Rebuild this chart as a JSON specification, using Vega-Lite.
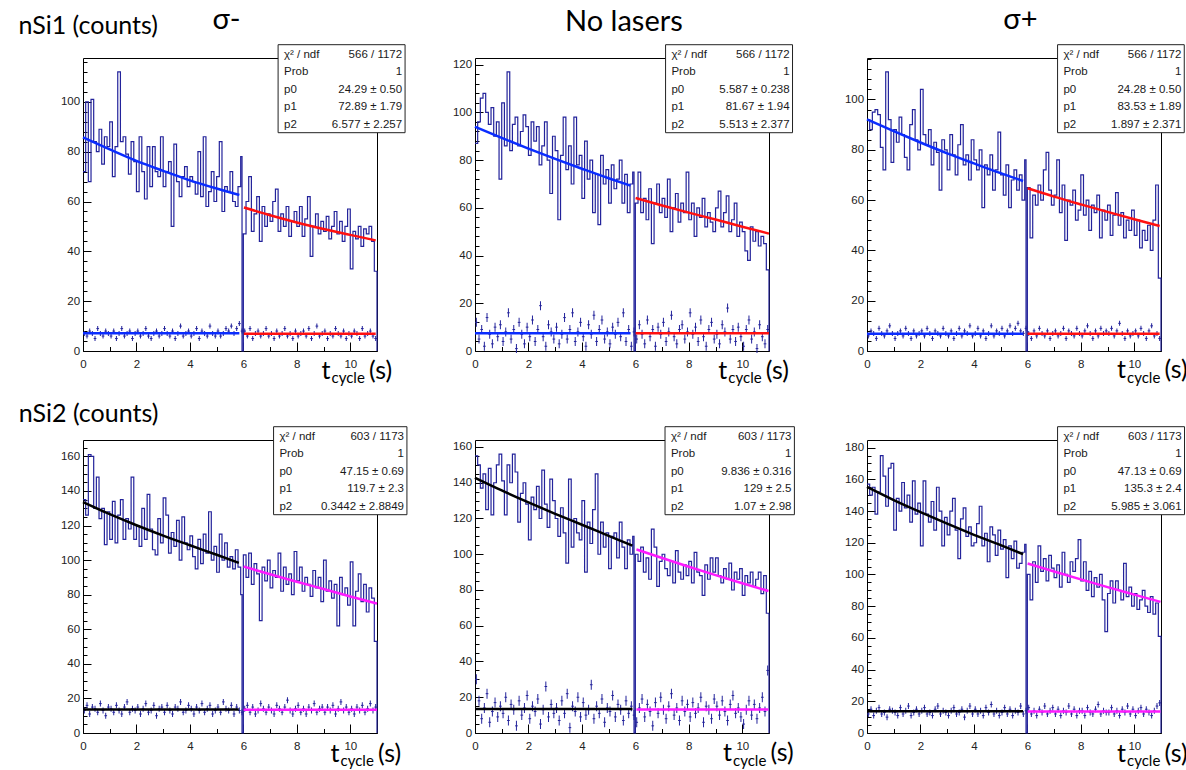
{
"$schema":"https://vega.github.io/schema/vega-lite/v6.json",
"background":"white",
"padding":{"left":18,"top":5,"right":0,"bottom":0},
"config":{"view":{"stroke":"#000","strokeWidth":1},"axis":{"domain":false,"grid":false,"labelFont":"Liberation Sans","labelFontSize":11.5,"labelColor":"#222","tickColor":"#000","tickWidth":1,"labelFlush":false,"labelOverlap":false}},
"datasets":{
"s1":[{"a":"χ² / ndf\nProb\np0\np1\np2","b":"566 / 1172\n1\n24.29 ± 0.50\n72.89 ± 1.79\n6.577 ± 2.257"}],
"s2":[{"a":"χ² / ndf\nProb\np0\np1\np2","b":"566 / 1172\n1\n5.587 ± 0.238\n81.67 ± 1.94\n5.513 ± 2.377"}],
"s3":[{"a":"χ² / ndf\nProb\np0\np1\np2","b":"566 / 1172\n1\n24.28 ± 0.50\n83.53 ± 1.89\n1.897 ± 2.371"}],
"s4":[{"a":"χ² / ndf\nProb\np0\np1\np2","b":"603 / 1173\n1\n47.15 ± 0.69\n119.7 ± 2.3\n0.3442 ± 2.8849"}],
"s5":[{"a":"χ² / ndf\nProb\np0\np1\np2","b":"603 / 1173\n1\n9.836 ± 0.316\n129 ± 2.5\n1.07 ± 2.98"}],
"s6":[{"a":"χ² / ndf\nProb\np0\np1\np2","b":"603 / 1173\n1\n47.13 ± 0.69\n135.3 ± 2.4\n5.985 ± 3.061"}],
"f1":[{"x":0,"y":85.7,"s":"pre1","k":"m"},{"x":1,"y":80.9,"s":"pre1","k":"m"},{"x":2,"y":76.3,"s":"pre1","k":"m"},{"x":3,"y":72.3,"s":"pre1","k":"m"},{"x":4,"y":68.5,"s":"pre1","k":"m"},{"x":5,"y":65.2,"s":"pre1","k":"m"},{"x":5.85,"y":62.6,"s":"pre1","k":"m"},{"x":6.02,"y":57.6,"s":"post1","k":"m"},{"x":7,"y":54.5,"s":"post1","k":"m"},{"x":8,"y":51.6,"s":"post1","k":"m"},{"x":9,"y":49.0,"s":"post1","k":"m"},{"x":10,"y":46.6,"s":"post1","k":"m"},{"x":10.95,"y":44.4,"s":"post1","k":"m"},{"x":0,"y":7.1,"s":"pre1","k":"g"},{"x":5.85,"y":7.1,"s":"pre1","k":"g"},{"x":6.02,"y":6.9,"s":"post1","k":"g"},{"x":10.95,"y":6.9,"s":"post1","k":"g"}],
"f2":[{"x":0,"y":94.0,"s":"pre1","k":"m"},{"x":1,"y":89.3,"s":"pre1","k":"m"},{"x":2,"y":84.8,"s":"pre1","k":"m"},{"x":3,"y":80.5,"s":"pre1","k":"m"},{"x":4,"y":76.4,"s":"pre1","k":"m"},{"x":5,"y":72.4,"s":"pre1","k":"m"},{"x":5.82,"y":69.3,"s":"pre1","k":"m"},{"x":6.01,"y":64.1,"s":"post1","k":"m"},{"x":7,"y":61.0,"s":"post1","k":"m"},{"x":8,"y":58.0,"s":"post1","k":"m"},{"x":9,"y":55.1,"s":"post1","k":"m"},{"x":10,"y":52.1,"s":"post1","k":"m"},{"x":11,"y":49.2,"s":"post1","k":"m"},{"x":0,"y":7.4,"s":"pre1","k":"g"},{"x":5.82,"y":7.4,"s":"pre1","k":"g"},{"x":6.01,"y":7.4,"s":"post1","k":"g"},{"x":11,"y":7.4,"s":"post1","k":"g"}],
"f3":[{"x":0,"y":92.1,"s":"pre1","k":"m"},{"x":1,"y":87.4,"s":"pre1","k":"m"},{"x":2,"y":82.9,"s":"pre1","k":"m"},{"x":3,"y":78.6,"s":"pre1","k":"m"},{"x":4,"y":74.6,"s":"pre1","k":"m"},{"x":5,"y":70.7,"s":"pre1","k":"m"},{"x":5.84,"y":67.6,"s":"pre1","k":"m"},{"x":6.01,"y":64.7,"s":"post1","k":"m"},{"x":7,"y":61.4,"s":"post1","k":"m"},{"x":8,"y":58.3,"s":"post1","k":"m"},{"x":9,"y":55.3,"s":"post1","k":"m"},{"x":10,"y":52.4,"s":"post1","k":"m"},{"x":10.95,"y":49.7,"s":"post1","k":"m"},{"x":0,"y":6.9,"s":"pre1","k":"g"},{"x":5.84,"y":6.9,"s":"pre1","k":"g"},{"x":6.01,"y":6.9,"s":"post1","k":"g"},{"x":10.95,"y":6.9,"s":"post1","k":"g"}],
"f4":[{"x":0,"y":133.5,"s":"pre2","k":"m"},{"x":1,"y":126.6,"s":"pre2","k":"m"},{"x":2,"y":120.2,"s":"pre2","k":"m"},{"x":3,"y":114.2,"s":"pre2","k":"m"},{"x":4,"y":108.6,"s":"pre2","k":"m"},{"x":5,"y":103.1,"s":"pre2","k":"m"},{"x":5.83,"y":98.4,"s":"pre2","k":"m"},{"x":6.01,"y":96.3,"s":"post2","k":"m"},{"x":7,"y":91.8,"s":"post2","k":"m"},{"x":8,"y":87.5,"s":"post2","k":"m"},{"x":9,"y":83.3,"s":"post2","k":"m"},{"x":10,"y":79.0,"s":"post2","k":"m"},{"x":11,"y":74.9,"s":"post2","k":"m"},{"x":0,"y":13.6,"s":"pre2","k":"g"},{"x":5.83,"y":13.6,"s":"pre2","k":"g"},{"x":6.01,"y":13.4,"s":"post2","k":"g"},{"x":11,"y":13.4,"s":"post2","k":"g"}],
"f5":[{"x":0,"y":142.8,"s":"pre2","k":"m"},{"x":1,"y":135.7,"s":"pre2","k":"m"},{"x":2,"y":129.0,"s":"pre2","k":"m"},{"x":3,"y":122.6,"s":"pre2","k":"m"},{"x":4,"y":116.5,"s":"pre2","k":"m"},{"x":5,"y":110.3,"s":"pre2","k":"m"},{"x":5.89,"y":104.8,"s":"pre2","k":"m"},{"x":6.04,"y":102.7,"s":"post2","k":"m"},{"x":7,"y":97.9,"s":"post2","k":"m"},{"x":8,"y":93.0,"s":"post2","k":"m"},{"x":9,"y":88.3,"s":"post2","k":"m"},{"x":10,"y":83.8,"s":"post2","k":"m"},{"x":10.98,"y":79.4,"s":"post2","k":"m"},{"x":0,"y":13.4,"s":"pre2","k":"g"},{"x":5.89,"y":13.4,"s":"pre2","k":"g"},{"x":6.04,"y":13.2,"s":"post2","k":"g"},{"x":10.98,"y":13.2,"s":"post2","k":"g"}],
"f6":[{"x":0,"y":155.2,"s":"pre2","k":"m"},{"x":1,"y":146.9,"s":"pre2","k":"m"},{"x":2,"y":139.3,"s":"pre2","k":"m"},{"x":3,"y":132.0,"s":"pre2","k":"m"},{"x":4,"y":125.0,"s":"pre2","k":"m"},{"x":5,"y":118.5,"s":"pre2","k":"m"},{"x":5.84,"y":112.8,"s":"pre2","k":"m"},{"x":6.01,"y":106.9,"s":"post2","k":"m"},{"x":7,"y":101.9,"s":"post2","k":"m"},{"x":8,"y":96.9,"s":"post2","k":"m"},{"x":9,"y":92.0,"s":"post2","k":"m"},{"x":10,"y":87.3,"s":"post2","k":"m"},{"x":10.98,"y":82.7,"s":"post2","k":"m"},{"x":0,"y":13.7,"s":"pre2","k":"g"},{"x":5.84,"y":13.7,"s":"pre2","k":"g"},{"x":6.01,"y":13.5,"s":"post2","k":"g"},{"x":10.98,"y":13.5,"s":"post2","k":"g"}],
"h1":[{"x":0,"y":72},{"x":0.1,"y":100},{"x":0.2,"y":68},{"x":0.3,"y":101},{"x":0.4,"y":84},{"x":0.5,"y":80},{"x":0.6,"y":89},{"x":0.7,"y":75},{"x":0.8,"y":86},{"x":0.9,"y":82},{"x":1,"y":92},{"x":1.1,"y":70},{"x":1.2,"y":82},{"x":1.3,"y":112},{"x":1.4,"y":84},{"x":1.5,"y":86},{"x":1.6,"y":79},{"x":1.7,"y":71},{"x":1.8,"y":84},{"x":1.9,"y":76},{"x":2,"y":64},{"x":2.1,"y":86},{"x":2.2,"y":72},{"x":2.3,"y":61},{"x":2.4,"y":82},{"x":2.5,"y":66},{"x":2.6,"y":82},{"x":2.7,"y":72},{"x":2.8,"y":70},{"x":2.9,"y":86},{"x":3,"y":66},{"x":3.1,"y":72},{"x":3.2,"y":76},{"x":3.3,"y":50},{"x":3.4,"y":83},{"x":3.5,"y":68},{"x":3.6,"y":62},{"x":3.7,"y":70},{"x":3.8,"y":74},{"x":3.9,"y":66},{"x":4,"y":70},{"x":4.1,"y":68},{"x":4.2,"y":63},{"x":4.3,"y":80},{"x":4.4,"y":62},{"x":4.5,"y":86},{"x":4.6,"y":58},{"x":4.7,"y":64},{"x":4.8,"y":72},{"x":4.9,"y":60},{"x":5,"y":70},{"x":5.1,"y":84},{"x":5.2,"y":56},{"x":5.3,"y":66},{"x":5.4,"y":64},{"x":5.5,"y":72},{"x":5.6,"y":60},{"x":5.7,"y":58},{"x":5.8,"y":66},{"x":5.9,"y":78},{"x":5.95,"y":0},{"x":6,"y":47},{"x":6.1,"y":60},{"x":6.2,"y":70},{"x":6.3,"y":48},{"x":6.4,"y":55},{"x":6.5,"y":62},{"x":6.6,"y":44},{"x":6.7,"y":58},{"x":6.8,"y":50},{"x":6.9,"y":55},{"x":7,"y":52},{"x":7.1,"y":60},{"x":7.2,"y":65},{"x":7.3,"y":48},{"x":7.4,"y":55},{"x":7.5,"y":50},{"x":7.6,"y":58},{"x":7.7,"y":46},{"x":7.8,"y":52},{"x":7.9,"y":56},{"x":8,"y":50},{"x":8.1,"y":58},{"x":8.2,"y":46},{"x":8.3,"y":53},{"x":8.4,"y":62},{"x":8.5,"y":38},{"x":8.6,"y":50},{"x":8.7,"y":55},{"x":8.8,"y":47},{"x":8.9,"y":52},{"x":9,"y":48},{"x":9.1,"y":54},{"x":9.2,"y":45},{"x":9.3,"y":50},{"x":9.4,"y":56},{"x":9.5,"y":47},{"x":9.6,"y":52},{"x":9.7,"y":44},{"x":9.8,"y":50},{"x":9.9,"y":57},{"x":10,"y":33},{"x":10.1,"y":48},{"x":10.2,"y":45},{"x":10.3,"y":50},{"x":10.4,"y":42},{"x":10.5,"y":49},{"x":10.6,"y":47},{"x":10.7,"y":50},{"x":10.8,"y":44},{"x":10.9,"y":32},{"x":11,"y":0}],
"h2":[{"x":0,"y":87},{"x":0.1,"y":96},{"x":0.2,"y":106},{"x":0.3,"y":108},{"x":0.4,"y":100},{"x":0.5,"y":95},{"x":0.6,"y":102},{"x":0.7,"y":90},{"x":0.8,"y":96},{"x":0.9,"y":72},{"x":1,"y":104},{"x":1.1,"y":86},{"x":1.2,"y":117},{"x":1.3,"y":84},{"x":1.4,"y":95},{"x":1.5,"y":98},{"x":1.6,"y":86},{"x":1.7,"y":92},{"x":1.8,"y":99},{"x":1.9,"y":94},{"x":2,"y":82},{"x":2.1,"y":96},{"x":2.2,"y":88},{"x":2.3,"y":94},{"x":2.4,"y":78},{"x":2.5,"y":86},{"x":2.6,"y":96},{"x":2.7,"y":80},{"x":2.8,"y":66},{"x":2.9,"y":90},{"x":3,"y":84},{"x":3.1,"y":55},{"x":3.2,"y":82},{"x":3.3,"y":98},{"x":3.4,"y":76},{"x":3.5,"y":86},{"x":3.6,"y":70},{"x":3.7,"y":98},{"x":3.8,"y":78},{"x":3.9,"y":82},{"x":4,"y":64},{"x":4.1,"y":88},{"x":4.2,"y":72},{"x":4.3,"y":80},{"x":4.4,"y":58},{"x":4.5,"y":74},{"x":4.6,"y":53},{"x":4.7,"y":82},{"x":4.8,"y":70},{"x":4.9,"y":76},{"x":5,"y":62},{"x":5.1,"y":78},{"x":5.2,"y":68},{"x":5.3,"y":72},{"x":5.4,"y":80},{"x":5.5,"y":62},{"x":5.6,"y":74},{"x":5.7,"y":58},{"x":5.8,"y":70},{"x":5.9,"y":75},{"x":5.95,"y":0},{"x":6,"y":62},{"x":6.1,"y":75},{"x":6.2,"y":58},{"x":6.3,"y":64},{"x":6.4,"y":55},{"x":6.5,"y":68},{"x":6.6,"y":45},{"x":6.7,"y":62},{"x":6.8,"y":70},{"x":6.9,"y":58},{"x":7,"y":64},{"x":7.1,"y":56},{"x":7.2,"y":72},{"x":7.3,"y":50},{"x":7.4,"y":60},{"x":7.5,"y":66},{"x":7.6,"y":54},{"x":7.7,"y":62},{"x":7.8,"y":58},{"x":7.9,"y":75},{"x":8,"y":55},{"x":8.1,"y":62},{"x":8.2,"y":48},{"x":8.3,"y":60},{"x":8.4,"y":56},{"x":8.5,"y":64},{"x":8.6,"y":52},{"x":8.7,"y":58},{"x":8.8,"y":54},{"x":8.9,"y":50},{"x":9,"y":60},{"x":9.1,"y":67},{"x":9.2,"y":52},{"x":9.3,"y":58},{"x":9.4,"y":65},{"x":9.5,"y":50},{"x":9.6,"y":55},{"x":9.7,"y":62},{"x":9.8,"y":48},{"x":9.9,"y":54},{"x":10,"y":50},{"x":10.1,"y":42},{"x":10.2,"y":38},{"x":10.3,"y":52},{"x":10.4,"y":46},{"x":10.5,"y":50},{"x":10.6,"y":44},{"x":10.7,"y":48},{"x":10.8,"y":45},{"x":10.9,"y":34},{"x":11,"y":0}],
"h3":[{"x":0,"y":92},{"x":0.1,"y":88},{"x":0.2,"y":95},{"x":0.3,"y":96},{"x":0.4,"y":94},{"x":0.5,"y":81},{"x":0.6,"y":72},{"x":0.7,"y":111},{"x":0.8,"y":92},{"x":0.9,"y":75},{"x":1,"y":88},{"x":1.1,"y":83},{"x":1.2,"y":93},{"x":1.3,"y":86},{"x":1.4,"y":77},{"x":1.5,"y":72},{"x":1.6,"y":90},{"x":1.7,"y":96},{"x":1.8,"y":84},{"x":1.9,"y":80},{"x":2,"y":104},{"x":2.1,"y":86},{"x":2.2,"y":82},{"x":2.3,"y":88},{"x":2.4,"y":74},{"x":2.5,"y":83},{"x":2.6,"y":79},{"x":2.7,"y":64},{"x":2.8,"y":84},{"x":2.9,"y":80},{"x":3,"y":72},{"x":3.1,"y":86},{"x":3.2,"y":78},{"x":3.3,"y":70},{"x":3.4,"y":82},{"x":3.5,"y":90},{"x":3.6,"y":74},{"x":3.7,"y":78},{"x":3.8,"y":68},{"x":3.9,"y":84},{"x":4,"y":76},{"x":4.1,"y":72},{"x":4.2,"y":80},{"x":4.3,"y":57},{"x":4.4,"y":74},{"x":4.5,"y":70},{"x":4.6,"y":78},{"x":4.7,"y":64},{"x":4.8,"y":72},{"x":4.9,"y":87},{"x":5,"y":70},{"x":5.1,"y":62},{"x":5.2,"y":74},{"x":5.3,"y":57},{"x":5.4,"y":68},{"x":5.5,"y":72},{"x":5.6,"y":64},{"x":5.7,"y":70},{"x":5.8,"y":60},{"x":5.9,"y":76},{"x":5.95,"y":0},{"x":6,"y":65},{"x":6.1,"y":45},{"x":6.2,"y":62},{"x":6.3,"y":58},{"x":6.4,"y":66},{"x":6.5,"y":60},{"x":6.6,"y":72},{"x":6.7,"y":79},{"x":6.8,"y":64},{"x":6.9,"y":58},{"x":7,"y":62},{"x":7.1,"y":76},{"x":7.2,"y":55},{"x":7.3,"y":66},{"x":7.4,"y":44},{"x":7.5,"y":60},{"x":7.6,"y":58},{"x":7.7,"y":64},{"x":7.8,"y":52},{"x":7.9,"y":56},{"x":8,"y":70},{"x":8.1,"y":54},{"x":8.2,"y":60},{"x":8.3,"y":48},{"x":8.4,"y":58},{"x":8.5,"y":55},{"x":8.6,"y":62},{"x":8.7,"y":45},{"x":8.8,"y":56},{"x":8.9,"y":52},{"x":9,"y":58},{"x":9.1,"y":46},{"x":9.2,"y":54},{"x":9.3,"y":63},{"x":9.4,"y":50},{"x":9.5,"y":55},{"x":9.6,"y":45},{"x":9.7,"y":52},{"x":9.8,"y":48},{"x":9.9,"y":56},{"x":10,"y":46},{"x":10.1,"y":52},{"x":10.2,"y":41},{"x":10.3,"y":48},{"x":10.4,"y":44},{"x":10.5,"y":50},{"x":10.6,"y":40},{"x":10.7,"y":52},{"x":10.8,"y":66},{"x":10.9,"y":29},{"x":11,"y":0}],
"h4":[{"x":0,"y":135},{"x":0.1,"y":126},{"x":0.2,"y":161},{"x":0.3,"y":160},{"x":0.4,"y":130},{"x":0.5,"y":148},{"x":0.6,"y":124},{"x":0.7,"y":130},{"x":0.8,"y":109},{"x":0.9,"y":128},{"x":1,"y":112},{"x":1.1,"y":134},{"x":1.2,"y":110},{"x":1.3,"y":126},{"x":1.4,"y":135},{"x":1.5,"y":112},{"x":1.6,"y":124},{"x":1.7,"y":118},{"x":1.8,"y":148},{"x":1.9,"y":112},{"x":2,"y":120},{"x":2.1,"y":108},{"x":2.2,"y":130},{"x":2.3,"y":112},{"x":2.4,"y":138},{"x":2.5,"y":118},{"x":2.6,"y":106},{"x":2.7,"y":103},{"x":2.8,"y":124},{"x":2.9,"y":110},{"x":3,"y":136},{"x":3.1,"y":126},{"x":3.2,"y":104},{"x":3.3,"y":116},{"x":3.4,"y":108},{"x":3.5,"y":123},{"x":3.6,"y":100},{"x":3.7,"y":125},{"x":3.8,"y":110},{"x":3.9,"y":106},{"x":4,"y":114},{"x":4.1,"y":102},{"x":4.2,"y":95},{"x":4.3,"y":112},{"x":4.4,"y":98},{"x":4.5,"y":115},{"x":4.6,"y":104},{"x":4.7,"y":128},{"x":4.8,"y":100},{"x":4.9,"y":108},{"x":5,"y":93},{"x":5.1,"y":115},{"x":5.2,"y":100},{"x":5.3,"y":110},{"x":5.4,"y":96},{"x":5.5,"y":102},{"x":5.6,"y":95},{"x":5.7,"y":106},{"x":5.8,"y":96},{"x":5.9,"y":80},{"x":5.95,"y":0},{"x":6,"y":103},{"x":6.1,"y":90},{"x":6.2,"y":104},{"x":6.3,"y":86},{"x":6.4,"y":98},{"x":6.5,"y":92},{"x":6.6,"y":65},{"x":6.7,"y":96},{"x":6.8,"y":88},{"x":6.9,"y":100},{"x":7,"y":84},{"x":7.1,"y":94},{"x":7.2,"y":90},{"x":7.3,"y":104},{"x":7.4,"y":82},{"x":7.5,"y":96},{"x":7.6,"y":86},{"x":7.7,"y":92},{"x":7.8,"y":80},{"x":7.9,"y":105},{"x":8,"y":88},{"x":8.1,"y":96},{"x":8.2,"y":82},{"x":8.3,"y":90},{"x":8.4,"y":86},{"x":8.5,"y":79},{"x":8.6,"y":94},{"x":8.7,"y":84},{"x":8.8,"y":90},{"x":8.9,"y":76},{"x":9,"y":100},{"x":9.1,"y":82},{"x":9.2,"y":88},{"x":9.3,"y":78},{"x":9.4,"y":86},{"x":9.5,"y":62},{"x":9.6,"y":90},{"x":9.7,"y":80},{"x":9.8,"y":84},{"x":9.9,"y":74},{"x":10,"y":99},{"x":10.1,"y":62},{"x":10.2,"y":82},{"x":10.3,"y":92},{"x":10.4,"y":76},{"x":10.5,"y":86},{"x":10.6,"y":70},{"x":10.7,"y":84},{"x":10.8,"y":78},{"x":10.9,"y":53},{"x":11,"y":0}],
"h5":[{"x":0,"y":155},{"x":0.1,"y":150},{"x":0.2,"y":137},{"x":0.3,"y":145},{"x":0.4,"y":125},{"x":0.5,"y":148},{"x":0.6,"y":122},{"x":0.7,"y":140},{"x":0.8,"y":150},{"x":0.9,"y":156},{"x":1,"y":141},{"x":1.1,"y":122},{"x":1.2,"y":150},{"x":1.3,"y":140},{"x":1.4,"y":156},{"x":1.5,"y":146},{"x":1.6,"y":118},{"x":1.7,"y":134},{"x":1.8,"y":140},{"x":1.9,"y":128},{"x":2,"y":108},{"x":2.1,"y":132},{"x":2.2,"y":125},{"x":2.3,"y":138},{"x":2.4,"y":120},{"x":2.5,"y":147},{"x":2.6,"y":128},{"x":2.7,"y":115},{"x":2.8,"y":142},{"x":2.9,"y":130},{"x":3,"y":120},{"x":3.1,"y":110},{"x":3.2,"y":126},{"x":3.3,"y":112},{"x":3.4,"y":95},{"x":3.5,"y":142},{"x":3.6,"y":104},{"x":3.7,"y":120},{"x":3.8,"y":112},{"x":3.9,"y":108},{"x":4,"y":130},{"x":4.1,"y":90},{"x":4.2,"y":118},{"x":4.3,"y":106},{"x":4.4,"y":125},{"x":4.5,"y":145},{"x":4.6,"y":100},{"x":4.7,"y":118},{"x":4.8,"y":104},{"x":4.9,"y":112},{"x":5,"y":92},{"x":5.1,"y":110},{"x":5.2,"y":112},{"x":5.3,"y":98},{"x":5.4,"y":118},{"x":5.5,"y":104},{"x":5.6,"y":92},{"x":5.7,"y":108},{"x":5.8,"y":100},{"x":5.9,"y":110},{"x":5.95,"y":0},{"x":6,"y":100},{"x":6.1,"y":96},{"x":6.2,"y":104},{"x":6.3,"y":90},{"x":6.4,"y":98},{"x":6.5,"y":86},{"x":6.6,"y":114},{"x":6.7,"y":104},{"x":6.8,"y":82},{"x":6.9,"y":96},{"x":7,"y":100},{"x":7.1,"y":92},{"x":7.2,"y":88},{"x":7.3,"y":96},{"x":7.4,"y":84},{"x":7.5,"y":102},{"x":7.6,"y":90},{"x":7.7,"y":86},{"x":7.8,"y":94},{"x":7.9,"y":88},{"x":8,"y":96},{"x":8.1,"y":84},{"x":8.2,"y":101},{"x":8.3,"y":90},{"x":8.4,"y":88},{"x":8.5,"y":77},{"x":8.6,"y":94},{"x":8.7,"y":86},{"x":8.8,"y":98},{"x":8.9,"y":90},{"x":9,"y":98},{"x":9.1,"y":88},{"x":9.2,"y":84},{"x":9.3,"y":92},{"x":9.4,"y":86},{"x":9.5,"y":95},{"x":9.6,"y":80},{"x":9.7,"y":90},{"x":9.8,"y":86},{"x":9.9,"y":92},{"x":10,"y":77},{"x":10.1,"y":88},{"x":10.2,"y":84},{"x":10.3,"y":90},{"x":10.4,"y":82},{"x":10.5,"y":86},{"x":10.6,"y":90},{"x":10.7,"y":78},{"x":10.8,"y":88},{"x":10.9,"y":67},{"x":11,"y":0}],
"h6":[{"x":0,"y":157},{"x":0.1,"y":150},{"x":0.2,"y":155},{"x":0.3,"y":138},{"x":0.4,"y":152},{"x":0.5,"y":175},{"x":0.6,"y":162},{"x":0.7,"y":143},{"x":0.8,"y":167},{"x":0.9,"y":170},{"x":1,"y":128},{"x":1.1,"y":148},{"x":1.2,"y":140},{"x":1.3,"y":158},{"x":1.4,"y":142},{"x":1.5,"y":150},{"x":1.6,"y":133},{"x":1.7,"y":159},{"x":1.8,"y":138},{"x":1.9,"y":145},{"x":2,"y":118},{"x":2.1,"y":159},{"x":2.2,"y":138},{"x":2.3,"y":133},{"x":2.4,"y":146},{"x":2.5,"y":128},{"x":2.6,"y":155},{"x":2.7,"y":140},{"x":2.8,"y":118},{"x":2.9,"y":136},{"x":3,"y":125},{"x":3.1,"y":140},{"x":3.2,"y":148},{"x":3.3,"y":128},{"x":3.4,"y":110},{"x":3.5,"y":135},{"x":3.6,"y":142},{"x":3.7,"y":124},{"x":3.8,"y":130},{"x":3.9,"y":118},{"x":4,"y":120},{"x":4.1,"y":132},{"x":4.2,"y":143},{"x":4.3,"y":118},{"x":4.4,"y":126},{"x":4.5,"y":108},{"x":4.6,"y":130},{"x":4.7,"y":125},{"x":4.8,"y":112},{"x":4.9,"y":128},{"x":5,"y":116},{"x":5.1,"y":122},{"x":5.2,"y":98},{"x":5.3,"y":118},{"x":5.4,"y":110},{"x":5.5,"y":121},{"x":5.6,"y":104},{"x":5.7,"y":107},{"x":5.8,"y":114},{"x":5.9,"y":119},{"x":5.95,"y":0},{"x":6,"y":100},{"x":6.1,"y":84},{"x":6.2,"y":108},{"x":6.3,"y":95},{"x":6.4,"y":118},{"x":6.5,"y":102},{"x":6.6,"y":110},{"x":6.7,"y":96},{"x":6.8,"y":112},{"x":6.9,"y":104},{"x":7,"y":98},{"x":7.1,"y":106},{"x":7.2,"y":92},{"x":7.3,"y":114},{"x":7.4,"y":100},{"x":7.5,"y":95},{"x":7.6,"y":108},{"x":7.7,"y":102},{"x":7.8,"y":110},{"x":7.9,"y":122},{"x":8,"y":96},{"x":8.1,"y":108},{"x":8.2,"y":90},{"x":8.3,"y":102},{"x":8.4,"y":86},{"x":8.5,"y":98},{"x":8.6,"y":92},{"x":8.7,"y":100},{"x":8.8,"y":84},{"x":8.9,"y":64},{"x":9,"y":88},{"x":9.1,"y":96},{"x":9.2,"y":82},{"x":9.3,"y":96},{"x":9.4,"y":90},{"x":9.5,"y":84},{"x":9.6,"y":107},{"x":9.7,"y":86},{"x":9.8,"y":92},{"x":9.9,"y":80},{"x":10,"y":88},{"x":10.1,"y":78},{"x":10.2,"y":84},{"x":10.3,"y":90},{"x":10.4,"y":80},{"x":10.5,"y":76},{"x":10.6,"y":86},{"x":10.7,"y":75},{"x":10.8,"y":82},{"x":10.9,"y":61},{"x":11,"y":0}],
"b1":[{"x":0.05,"y":7},{"x":0.15,"y":6},{"x":0.25,"y":8},{"x":0.35,"y":7},{"x":0.45,"y":5},{"x":0.55,"y":9},{"x":0.65,"y":7},{"x":0.75,"y":6},{"x":0.85,"y":8},{"x":0.95,"y":7},{"x":1.05,"y":6},{"x":1.15,"y":8},{"x":1.25,"y":5},{"x":1.35,"y":7},{"x":1.45,"y":9},{"x":1.55,"y":6},{"x":1.65,"y":7},{"x":1.75,"y":8},{"x":1.85,"y":5},{"x":1.95,"y":7},{"x":2.05,"y":8},{"x":2.15,"y":6},{"x":2.25,"y":7},{"x":2.35,"y":9},{"x":2.45,"y":6},{"x":2.55,"y":5},{"x":2.65,"y":7},{"x":2.75,"y":8},{"x":2.85,"y":6},{"x":2.95,"y":7},{"x":3.05,"y":9},{"x":3.15,"y":7},{"x":3.25,"y":6},{"x":3.35,"y":8},{"x":3.45,"y":5},{"x":3.55,"y":7},{"x":3.65,"y":10},{"x":3.75,"y":6},{"x":3.85,"y":7},{"x":3.95,"y":8},{"x":4.05,"y":6},{"x":4.15,"y":7},{"x":4.25,"y":9},{"x":4.35,"y":5},{"x":4.45,"y":8},{"x":4.55,"y":7},{"x":4.65,"y":6},{"x":4.75,"y":10},{"x":4.85,"y":7},{"x":4.95,"y":6},{"x":5.05,"y":8},{"x":5.15,"y":6},{"x":5.25,"y":7},{"x":5.35,"y":9},{"x":5.45,"y":8},{"x":5.55,"y":10},{"x":5.65,"y":7},{"x":5.75,"y":9},{"x":5.85,"y":11},{"x":5.95,"y":8},{"x":6.05,"y":8},{"x":6.15,"y":6},{"x":6.25,"y":9},{"x":6.35,"y":5},{"x":6.45,"y":7},{"x":6.55,"y":8},{"x":6.65,"y":6},{"x":6.75,"y":7},{"x":6.85,"y":9},{"x":6.95,"y":6},{"x":7.05,"y":7},{"x":7.15,"y":5},{"x":7.25,"y":8},{"x":7.35,"y":6},{"x":7.45,"y":7},{"x":7.55,"y":9},{"x":7.65,"y":6},{"x":7.75,"y":7},{"x":7.85,"y":5},{"x":7.95,"y":8},{"x":8.05,"y":6},{"x":8.15,"y":7},{"x":8.25,"y":8},{"x":8.35,"y":6},{"x":8.45,"y":9},{"x":8.55,"y":5},{"x":8.65,"y":7},{"x":8.75,"y":10},{"x":8.85,"y":6},{"x":8.95,"y":7},{"x":9.05,"y":8},{"x":9.15,"y":5},{"x":9.25,"y":7},{"x":9.35,"y":6},{"x":9.45,"y":9},{"x":9.55,"y":7},{"x":9.65,"y":6},{"x":9.75,"y":8},{"x":9.85,"y":5},{"x":9.95,"y":7},{"x":10.05,"y":6},{"x":10.15,"y":8},{"x":10.25,"y":7},{"x":10.35,"y":5},{"x":10.45,"y":9},{"x":10.55,"y":6},{"x":10.65,"y":7},{"x":10.75,"y":8},{"x":10.85,"y":6},{"x":10.95,"y":5}],
"b2":[{"x":0.05,"y":12},{"x":0.15,"y":5},{"x":0.25,"y":9},{"x":0.35,"y":2},{"x":0.45,"y":14},{"x":0.55,"y":7},{"x":0.65,"y":3},{"x":0.75,"y":10},{"x":0.85,"y":6},{"x":0.95,"y":11},{"x":1.05,"y":4},{"x":1.15,"y":8},{"x":1.25,"y":16},{"x":1.35,"y":5},{"x":1.45,"y":9},{"x":1.55,"y":1},{"x":1.65,"y":12},{"x":1.75,"y":7},{"x":1.85,"y":3},{"x":1.95,"y":10},{"x":2.05,"y":6},{"x":2.15,"y":13},{"x":2.25,"y":4},{"x":2.35,"y":9},{"x":2.45,"y":19},{"x":2.55,"y":6},{"x":2.65,"y":2},{"x":2.75,"y":11},{"x":2.85,"y":8},{"x":2.95,"y":5},{"x":3.05,"y":10},{"x":3.15,"y":3},{"x":3.25,"y":7},{"x":3.35,"y":14},{"x":3.45,"y":5},{"x":3.55,"y":9},{"x":3.65,"y":16},{"x":3.75,"y":4},{"x":3.85,"y":8},{"x":3.95,"y":12},{"x":4.05,"y":6},{"x":4.15,"y":2},{"x":4.25,"y":11},{"x":4.35,"y":7},{"x":4.45,"y":15},{"x":4.55,"y":4},{"x":4.65,"y":9},{"x":4.75,"y":13},{"x":4.85,"y":5},{"x":4.95,"y":8},{"x":5.05,"y":3},{"x":5.15,"y":10},{"x":5.25,"y":7},{"x":5.35,"y":12},{"x":5.45,"y":6},{"x":5.55,"y":16},{"x":5.65,"y":4},{"x":5.75,"y":9},{"x":5.85,"y":2},{"x":5.95,"y":8},{"x":6.05,"y":5},{"x":6.15,"y":11},{"x":6.25,"y":7},{"x":6.35,"y":3},{"x":6.45,"y":13},{"x":6.55,"y":6},{"x":6.65,"y":9},{"x":6.75,"y":2},{"x":6.85,"y":10},{"x":6.95,"y":7},{"x":7.05,"y":12},{"x":7.15,"y":4},{"x":7.25,"y":8},{"x":7.35,"y":15},{"x":7.45,"y":6},{"x":7.55,"y":3},{"x":7.65,"y":9},{"x":7.75,"y":11},{"x":7.85,"y":5},{"x":7.95,"y":8},{"x":8.05,"y":16},{"x":8.15,"y":7},{"x":8.25,"y":10},{"x":8.35,"y":4},{"x":8.45,"y":13},{"x":8.55,"y":6},{"x":8.65,"y":2},{"x":8.75,"y":9},{"x":8.85,"y":12},{"x":8.95,"y":5},{"x":9.05,"y":7},{"x":9.15,"y":3},{"x":9.25,"y":11},{"x":9.35,"y":8},{"x":9.45,"y":18},{"x":9.55,"y":5},{"x":9.65,"y":9},{"x":9.75,"y":4},{"x":9.85,"y":10},{"x":9.95,"y":6},{"x":10.05,"y":2},{"x":10.15,"y":9},{"x":10.25,"y":13},{"x":10.35,"y":5},{"x":10.45,"y":8},{"x":10.55,"y":1},{"x":10.65,"y":11},{"x":10.75,"y":6},{"x":10.85,"y":3},{"x":10.95,"y":9}],
"b3":[{"x":0.05,"y":6},{"x":0.15,"y":8},{"x":0.25,"y":7},{"x":0.35,"y":5},{"x":0.45,"y":9},{"x":0.55,"y":7},{"x":0.65,"y":6},{"x":0.75,"y":8},{"x":0.85,"y":10},{"x":0.95,"y":7},{"x":1.05,"y":5},{"x":1.15,"y":7},{"x":1.25,"y":8},{"x":1.35,"y":6},{"x":1.45,"y":9},{"x":1.55,"y":7},{"x":1.65,"y":5},{"x":1.75,"y":8},{"x":1.85,"y":6},{"x":1.95,"y":7},{"x":2.05,"y":8},{"x":2.15,"y":6},{"x":2.25,"y":9},{"x":2.35,"y":7},{"x":2.45,"y":5},{"x":2.55,"y":8},{"x":2.65,"y":7},{"x":2.75,"y":6},{"x":2.85,"y":9},{"x":2.95,"y":7},{"x":3.05,"y":6},{"x":3.15,"y":8},{"x":3.25,"y":5},{"x":3.35,"y":7},{"x":3.45,"y":9},{"x":3.55,"y":6},{"x":3.65,"y":8},{"x":3.75,"y":7},{"x":3.85,"y":10},{"x":3.95,"y":6},{"x":4.05,"y":7},{"x":4.15,"y":9},{"x":4.25,"y":6},{"x":4.35,"y":8},{"x":4.45,"y":5},{"x":4.55,"y":7},{"x":4.65,"y":10},{"x":4.75,"y":6},{"x":4.85,"y":8},{"x":4.95,"y":7},{"x":5.05,"y":9},{"x":5.15,"y":6},{"x":5.25,"y":8},{"x":5.35,"y":10},{"x":5.45,"y":7},{"x":5.55,"y":9},{"x":5.65,"y":11},{"x":5.75,"y":8},{"x":5.85,"y":7},{"x":5.95,"y":9},{"x":6.05,"y":7},{"x":6.15,"y":5},{"x":6.25,"y":8},{"x":6.35,"y":6},{"x":6.45,"y":9},{"x":6.55,"y":7},{"x":6.65,"y":6},{"x":6.75,"y":8},{"x":6.85,"y":5},{"x":6.95,"y":7},{"x":7.05,"y":8},{"x":7.15,"y":6},{"x":7.25,"y":7},{"x":7.35,"y":9},{"x":7.45,"y":5},{"x":7.55,"y":8},{"x":7.65,"y":7},{"x":7.75,"y":6},{"x":7.85,"y":9},{"x":7.95,"y":7},{"x":8.05,"y":6},{"x":8.15,"y":8},{"x":8.25,"y":10},{"x":8.35,"y":7},{"x":8.45,"y":5},{"x":8.55,"y":8},{"x":8.65,"y":6},{"x":8.75,"y":9},{"x":8.85,"y":7},{"x":8.95,"y":8},{"x":9.05,"y":7},{"x":9.15,"y":9},{"x":9.25,"y":6},{"x":9.35,"y":8},{"x":9.45,"y":11},{"x":9.55,"y":7},{"x":9.65,"y":5},{"x":9.75,"y":8},{"x":9.85,"y":6},{"x":9.95,"y":7},{"x":10.05,"y":8},{"x":10.15,"y":6},{"x":10.25,"y":9},{"x":10.35,"y":7},{"x":10.45,"y":5},{"x":10.55,"y":8},{"x":10.65,"y":10},{"x":10.75,"y":6},{"x":10.85,"y":7},{"x":10.95,"y":5}],
"b4":[{"x":0.05,"y":13},{"x":0.15,"y":16},{"x":0.25,"y":11},{"x":0.35,"y":15},{"x":0.45,"y":14},{"x":0.55,"y":12},{"x":0.65,"y":17},{"x":0.75,"y":13},{"x":0.85,"y":10},{"x":0.95,"y":15},{"x":1.05,"y":14},{"x":1.15,"y":12},{"x":1.25,"y":16},{"x":1.35,"y":13},{"x":1.45,"y":11},{"x":1.55,"y":15},{"x":1.65,"y":18},{"x":1.75,"y":12},{"x":1.85,"y":14},{"x":1.95,"y":13},{"x":2.05,"y":15},{"x":2.15,"y":11},{"x":2.25,"y":14},{"x":2.35,"y":17},{"x":2.45,"y":12},{"x":2.55,"y":13},{"x":2.65,"y":16},{"x":2.75,"y":10},{"x":2.85,"y":14},{"x":2.95,"y":15},{"x":3.05,"y":12},{"x":3.15,"y":16},{"x":3.25,"y":13},{"x":3.35,"y":11},{"x":3.45,"y":15},{"x":3.55,"y":14},{"x":3.65,"y":18},{"x":3.75,"y":12},{"x":3.85,"y":13},{"x":3.95,"y":16},{"x":4.05,"y":14},{"x":4.15,"y":11},{"x":4.25,"y":15},{"x":4.35,"y":13},{"x":4.45,"y":17},{"x":4.55,"y":12},{"x":4.65,"y":14},{"x":4.75,"y":16},{"x":4.85,"y":11},{"x":4.95,"y":13},{"x":5.05,"y":15},{"x":5.15,"y":12},{"x":5.25,"y":18},{"x":5.35,"y":14},{"x":5.45,"y":13},{"x":5.55,"y":16},{"x":5.65,"y":11},{"x":5.75,"y":15},{"x":5.85,"y":13},{"x":5.95,"y":12},{"x":6.05,"y":14},{"x":6.15,"y":16},{"x":6.25,"y":12},{"x":6.35,"y":15},{"x":6.45,"y":11},{"x":6.55,"y":13},{"x":6.65,"y":17},{"x":6.75,"y":14},{"x":6.85,"y":12},{"x":6.95,"y":15},{"x":7.05,"y":13},{"x":7.15,"y":11},{"x":7.25,"y":16},{"x":7.35,"y":14},{"x":7.45,"y":12},{"x":7.55,"y":15},{"x":7.65,"y":19},{"x":7.75,"y":13},{"x":7.85,"y":11},{"x":7.95,"y":14},{"x":8.05,"y":16},{"x":8.15,"y":12},{"x":8.25,"y":14},{"x":8.35,"y":11},{"x":8.45,"y":15},{"x":8.55,"y":13},{"x":8.65,"y":17},{"x":8.75,"y":12},{"x":8.85,"y":14},{"x":8.95,"y":15},{"x":9.05,"y":12},{"x":9.15,"y":15},{"x":9.25,"y":13},{"x":9.35,"y":16},{"x":9.45,"y":11},{"x":9.55,"y":14},{"x":9.65,"y":18},{"x":9.75,"y":13},{"x":9.85,"y":15},{"x":9.95,"y":12},{"x":10.05,"y":14},{"x":10.15,"y":11},{"x":10.25,"y":15},{"x":10.35,"y":13},{"x":10.45,"y":16},{"x":10.55,"y":12},{"x":10.65,"y":14},{"x":10.75,"y":17},{"x":10.85,"y":13},{"x":10.95,"y":15}],
"b5":[{"x":0.05,"y":30},{"x":0.15,"y":18},{"x":0.25,"y":8},{"x":0.35,"y":14},{"x":0.45,"y":22},{"x":0.55,"y":6},{"x":0.65,"y":12},{"x":0.75,"y":17},{"x":0.85,"y":9},{"x":0.95,"y":15},{"x":1.05,"y":11},{"x":1.15,"y":20},{"x":1.25,"y":7},{"x":1.35,"y":16},{"x":1.45,"y":13},{"x":1.55,"y":4},{"x":1.65,"y":18},{"x":1.75,"y":10},{"x":1.85,"y":14},{"x":1.95,"y":21},{"x":2.05,"y":8},{"x":2.15,"y":15},{"x":2.25,"y":12},{"x":2.35,"y":19},{"x":2.45,"y":5},{"x":2.55,"y":13},{"x":2.65,"y":26},{"x":2.75,"y":9},{"x":2.85,"y":16},{"x":2.95,"y":11},{"x":3.05,"y":14},{"x":3.15,"y":7},{"x":3.25,"y":18},{"x":3.35,"y":11},{"x":3.45,"y":22},{"x":3.55,"y":3},{"x":3.65,"y":15},{"x":3.75,"y":12},{"x":3.85,"y":20},{"x":3.95,"y":9},{"x":4.05,"y":17},{"x":4.15,"y":10},{"x":4.25,"y":13},{"x":4.35,"y":27},{"x":4.45,"y":8},{"x":4.55,"y":15},{"x":4.65,"y":11},{"x":4.75,"y":19},{"x":4.85,"y":6},{"x":4.95,"y":14},{"x":5.05,"y":12},{"x":5.15,"y":21},{"x":5.25,"y":9},{"x":5.35,"y":16},{"x":5.45,"y":13},{"x":5.55,"y":7},{"x":5.65,"y":18},{"x":5.75,"y":11},{"x":5.85,"y":15},{"x":5.95,"y":10},{"x":6.05,"y":6},{"x":6.15,"y":14},{"x":6.25,"y":19},{"x":6.35,"y":9},{"x":6.45,"y":16},{"x":6.55,"y":12},{"x":6.65,"y":4},{"x":6.75,"y":17},{"x":6.85,"y":11},{"x":6.95,"y":20},{"x":7.05,"y":13},{"x":7.15,"y":8},{"x":7.25,"y":15},{"x":7.35,"y":22},{"x":7.45,"y":10},{"x":7.55,"y":14},{"x":7.65,"y":7},{"x":7.75,"y":18},{"x":7.85,"y":12},{"x":7.95,"y":16},{"x":8.05,"y":9},{"x":8.15,"y":17},{"x":8.25,"y":11},{"x":8.35,"y":14},{"x":8.45,"y":20},{"x":8.55,"y":6},{"x":8.65,"y":15},{"x":8.75,"y":13},{"x":8.85,"y":8},{"x":8.95,"y":19},{"x":9.05,"y":15},{"x":9.15,"y":10},{"x":9.25,"y":18},{"x":9.35,"y":12},{"x":9.45,"y":7},{"x":9.55,"y":16},{"x":9.65,"y":21},{"x":9.75,"y":11},{"x":9.85,"y":14},{"x":9.95,"y":9},{"x":10.05,"y":5},{"x":10.15,"y":13},{"x":10.25,"y":18},{"x":10.35,"y":10},{"x":10.45,"y":16},{"x":10.55,"y":8},{"x":10.65,"y":14},{"x":10.75,"y":20},{"x":10.85,"y":12},{"x":10.95,"y":35}],
"b6":[{"x":0.05,"y":12},{"x":0.15,"y":15},{"x":0.25,"y":11},{"x":0.35,"y":14},{"x":0.45,"y":16},{"x":0.55,"y":12},{"x":0.65,"y":13},{"x":0.75,"y":10},{"x":0.85,"y":15},{"x":0.95,"y":14},{"x":1.05,"y":13},{"x":1.15,"y":11},{"x":1.25,"y":16},{"x":1.35,"y":12},{"x":1.45,"y":14},{"x":1.55,"y":17},{"x":1.65,"y":11},{"x":1.75,"y":13},{"x":1.85,"y":15},{"x":1.95,"y":12},{"x":2.05,"y":14},{"x":2.15,"y":16},{"x":2.25,"y":12},{"x":2.35,"y":13},{"x":2.45,"y":11},{"x":2.55,"y":15},{"x":2.65,"y":17},{"x":2.75,"y":12},{"x":2.85,"y":14},{"x":2.95,"y":13},{"x":3.05,"y":11},{"x":3.15,"y":14},{"x":3.25,"y":16},{"x":3.35,"y":12},{"x":3.45,"y":13},{"x":3.55,"y":15},{"x":3.65,"y":10},{"x":3.75,"y":14},{"x":3.85,"y":17},{"x":3.95,"y":12},{"x":4.05,"y":15},{"x":4.15,"y":12},{"x":4.25,"y":14},{"x":4.35,"y":11},{"x":4.45,"y":16},{"x":4.55,"y":13},{"x":4.65,"y":18},{"x":4.75,"y":12},{"x":4.85,"y":14},{"x":4.95,"y":11},{"x":5.05,"y":13},{"x":5.15,"y":16},{"x":5.25,"y":12},{"x":5.35,"y":15},{"x":5.45,"y":11},{"x":5.55,"y":14},{"x":5.65,"y":13},{"x":5.75,"y":17},{"x":5.85,"y":12},{"x":5.95,"y":14},{"x":6.05,"y":16},{"x":6.15,"y":12},{"x":6.25,"y":14},{"x":6.35,"y":11},{"x":6.45,"y":15},{"x":6.55,"y":13},{"x":6.65,"y":17},{"x":6.75,"y":12},{"x":6.85,"y":14},{"x":6.95,"y":16},{"x":7.05,"y":12},{"x":7.15,"y":15},{"x":7.25,"y":11},{"x":7.35,"y":14},{"x":7.45,"y":13},{"x":7.55,"y":17},{"x":7.65,"y":12},{"x":7.75,"y":15},{"x":7.85,"y":11},{"x":7.95,"y":14},{"x":8.05,"y":14},{"x":8.15,"y":11},{"x":8.25,"y":16},{"x":8.35,"y":13},{"x":8.45,"y":12},{"x":8.55,"y":15},{"x":8.65,"y":18},{"x":8.75,"y":12},{"x":8.85,"y":14},{"x":8.95,"y":13},{"x":9.05,"y":13},{"x":9.15,"y":16},{"x":9.25,"y":12},{"x":9.35,"y":14},{"x":9.45,"y":11},{"x":9.55,"y":15},{"x":9.65,"y":13},{"x":9.75,"y":17},{"x":9.85,"y":12},{"x":9.95,"y":15},{"x":10.05,"y":11},{"x":10.15,"y":14},{"x":10.25,"y":16},{"x":10.35,"y":12},{"x":10.45,"y":15},{"x":10.55,"y":13},{"x":10.65,"y":11},{"x":10.75,"y":14},{"x":10.85,"y":17},{"x":10.95,"y":19}]
},
"columns":3,
"spacing":{"row":89,"column":98},
"bounds":"flush",
"concat":[
{"width":294,"height":293,"layer":[
{"data":{"name":"h1"},"mark":{"type":"line","interpolate":"step-after","color":"#23239b","strokeWidth":1.2},"encoding":{"x":{"field":"x","type":"quantitative","scale":{"domain":[0,11],"nice":false,"zero":false},"axis":{"title":null,"format":"d","tickCount":500,"labelOverlap":false,"labelBound":false,"values":[0,0.5,1,1.5,2,2.5,3,3.5,4,4.5,5,5.5,6,6.5,7,7.5,8,8.5,9,9.5,10,10.5,11],"labelExpr":"datum.value % 2 === 0 ? datum.label : ''","tickSize":{"condition":{"test":"datum.value % 2 === 0","value":-9},"value":-4.5},"labelPadding":16}},"y":{"field":"y","type":"quantitative","scale":{"domain":[0,117.6],"nice":false},"axis":{"title":null,"format":"d","tickCount":500,"labelOverlap":false,"labelBound":false,"values":[0,4,8,12,16,20,24,28,32,36,40,44,48,52,56,60,64,68,72,76,80,84,88,92,96,100,104,108,112,116],"labelExpr":"datum.value % 20 === 0 ? datum.label : ''","tickSize":{"condition":{"test":"datum.value % 20 === 0","value":-8},"value":-4},"labelPadding":11.4}}}},
{"data":{"name":"b1"},"mark":{"type":"tick","orient":"horizontal","size":2.7,"thickness":1,"color":"#23239b","opacity":1},"encoding":{"x":{"field":"x","type":"quantitative"},"y":{"field":"y","type":"quantitative"}}},
{"data":{"name":"b1"},"mark":{"type":"tick","orient":"vertical","size":5,"thickness":1,"color":"#23239b","opacity":1},"encoding":{"x":{"field":"x","type":"quantitative"},"y":{"field":"y","type":"quantitative"}}},
{"data":{"name":"f1"},"mark":{"type":"line","interpolate":"monotone","strokeWidth":2.5},"encoding":{"x":{"field":"x","type":"quantitative"},"y":{"field":"y","type":"quantitative"},"color":{"field":"s","type":"nominal","scale":{"domain":["pre1","post1","pre2","post2"],"range":["#0a2cff","#ff1010","#000000","#ff1aff"]},"legend":null},"detail":{"field":"k","type":"nominal"}}},
{"data":{"name":"s1"},"mark":{"type":"rect","fill":"#fff","stroke":"#222","strokeWidth":1},"encoding":{"x":{"datum":7.3},"x2":{"datum":12.05},"y":{"datum":122.94},"y2":{"datum":87.62}}},
{"data":{"name":"s1"},"mark":{"type":"text","align":"left","baseline":"top","lineBreak":"\n","lineHeight":17.6,"font":"Liberation Sans","fontSize":11.5,"color":"#1a1a1a"},"encoding":{"x":{"datum":7.52},"y":{"datum":121.35},"text":{"field":"a"}}},
{"data":{"name":"s1"},"mark":{"type":"text","align":"right","baseline":"top","lineBreak":"\n","lineHeight":17.6,"font":"Liberation Sans","fontSize":11.5,"color":"#1a1a1a"},"encoding":{"x":{"datum":11.94},"y":{"datum":121.35},"text":{"field":"b"}}},
{"data":{"name":"s1"},"mark":{"type":"text","text":"σ-","font":"Lato","fontSize":29,"align":"center","baseline":"alphabetic","color":"#000"},"encoding":{"x":{"datum":5.37},"y":{"datum":129.36}}},
{"data":{"name":"s1"},"mark":{"type":"text","text":"nSi1 (counts)","font":"Lato","fontSize":25,"align":"left","baseline":"alphabetic","color":"#000"},"encoding":{"x":{"datum":-2.413},"y":{"datum":127.15}}},
{"data":{"name":"s1"},"mark":{"type":"text","text":"t","font":"Lato","fontSize":25,"align":"left","baseline":"alphabetic","color":"#000"},"encoding":{"x":{"datum":8.924},"y":{"datum":-11.04}}},
{"data":{"name":"s1"},"mark":{"type":"text","text":"cycle","font":"Lato","fontSize":15,"align":"left","baseline":"alphabetic","color":"#000"},"encoding":{"x":{"datum":9.298},"y":{"datum":-13.04}}},
{"data":{"name":"s1"},"mark":{"type":"text","text":"(s)","font":"Lato","fontSize":25,"align":"left","baseline":"alphabetic","color":"#000"},"encoding":{"x":{"datum":10.701},"y":{"datum":-11.04}}}
]},
{"width":294,"height":293,"layer":[
{"data":{"name":"h2"},"mark":{"type":"line","interpolate":"step-after","color":"#23239b","strokeWidth":1.2},"encoding":{"x":{"field":"x","type":"quantitative","scale":{"domain":[0,11],"nice":false,"zero":false},"axis":{"title":null,"format":"d","tickCount":500,"labelOverlap":false,"labelBound":false,"values":[0,0.5,1,1.5,2,2.5,3,3.5,4,4.5,5,5.5,6,6.5,7,7.5,8,8.5,9,9.5,10,10.5,11],"labelExpr":"datum.value % 2 === 0 ? datum.label : ''","tickSize":{"condition":{"test":"datum.value % 2 === 0","value":-9},"value":-4.5},"labelPadding":16}},"y":{"field":"y","type":"quantitative","scale":{"domain":[0,122.8],"nice":false},"axis":{"title":null,"format":"d","tickCount":500,"labelOverlap":false,"labelBound":false,"values":[0,4,8,12,16,20,24,28,32,36,40,44,48,52,56,60,64,68,72,76,80,84,88,92,96,100,104,108,112,116,120],"labelExpr":"datum.value % 20 === 0 ? datum.label : ''","tickSize":{"condition":{"test":"datum.value % 20 === 0","value":-8},"value":-4},"labelPadding":11.4}}}},
{"data":{"name":"b2"},"mark":{"type":"tick","orient":"horizontal","size":2.7,"thickness":1,"color":"#23239b","opacity":1},"encoding":{"x":{"field":"x","type":"quantitative"},"y":{"field":"y","type":"quantitative"}}},
{"data":{"name":"b2"},"mark":{"type":"tick","orient":"vertical","size":9,"thickness":1,"color":"#23239b","opacity":1},"encoding":{"x":{"field":"x","type":"quantitative"},"y":{"field":"y","type":"quantitative"}}},
{"data":{"name":"f2"},"mark":{"type":"line","interpolate":"monotone","strokeWidth":2.5},"encoding":{"x":{"field":"x","type":"quantitative"},"y":{"field":"y","type":"quantitative"},"color":{"field":"s","type":"nominal","scale":{"domain":["pre1","post1","pre2","post2"],"range":["#0a2cff","#ff1010","#000000","#ff1aff"]},"legend":null},"detail":{"field":"k","type":"nominal"}}},
{"data":{"name":"s2"},"mark":{"type":"rect","fill":"#fff","stroke":"#222","strokeWidth":1},"encoding":{"x":{"datum":7.13},"x2":{"datum":11.88},"y":{"datum":128.37},"y2":{"datum":91.49}}},
{"data":{"name":"s2"},"mark":{"type":"text","align":"left","baseline":"top","lineBreak":"\n","lineHeight":17.6,"font":"Liberation Sans","fontSize":11.5,"color":"#1a1a1a"},"encoding":{"x":{"datum":7.35},"y":{"datum":126.72},"text":{"field":"a"}}},
{"data":{"name":"s2"},"mark":{"type":"text","align":"right","baseline":"top","lineBreak":"\n","lineHeight":17.6,"font":"Liberation Sans","fontSize":11.5,"color":"#1a1a1a"},"encoding":{"x":{"datum":11.77},"y":{"datum":126.72},"text":{"field":"b"}}},
{"data":{"name":"s2"},"mark":{"type":"text","text":"No lasers","font":"Lato","fontSize":29,"align":"center","baseline":"alphabetic","color":"#000"},"encoding":{"x":{"datum":5.57},"y":{"datum":134.24}}},
{"data":{"name":"s2"},"mark":{"type":"text","text":"t","font":"Lato","fontSize":25,"align":"left","baseline":"alphabetic","color":"#000"},"encoding":{"x":{"datum":9.103},"y":{"datum":-11.53}}},
{"data":{"name":"s2"},"mark":{"type":"text","text":"cycle","font":"Lato","fontSize":15,"align":"left","baseline":"alphabetic","color":"#000"},"encoding":{"x":{"datum":9.477},"y":{"datum":-13.62}}},
{"data":{"name":"s2"},"mark":{"type":"text","text":"(s)","font":"Lato","fontSize":25,"align":"left","baseline":"alphabetic","color":"#000"},"encoding":{"x":{"datum":10.88},"y":{"datum":-11.53}}}
]},
{"width":294,"height":293,"layer":[
{"data":{"name":"h3"},"mark":{"type":"line","interpolate":"step-after","color":"#23239b","strokeWidth":1.2},"encoding":{"x":{"field":"x","type":"quantitative","scale":{"domain":[0,11],"nice":false,"zero":false},"axis":{"title":null,"format":"d","tickCount":500,"labelOverlap":false,"labelBound":false,"values":[0,0.5,1,1.5,2,2.5,3,3.5,4,4.5,5,5.5,6,6.5,7,7.5,8,8.5,9,9.5,10,10.5,11],"labelExpr":"datum.value % 2 === 0 ? datum.label : ''","tickSize":{"condition":{"test":"datum.value % 2 === 0","value":-9},"value":-4.5},"labelPadding":16}},"y":{"field":"y","type":"quantitative","scale":{"domain":[0,116.5],"nice":false},"axis":{"title":null,"format":"d","tickCount":500,"labelOverlap":false,"labelBound":false,"values":[0,4,8,12,16,20,24,28,32,36,40,44,48,52,56,60,64,68,72,76,80,84,88,92,96,100,104,108,112,116],"labelExpr":"datum.value % 20 === 0 ? datum.label : ''","tickSize":{"condition":{"test":"datum.value % 20 === 0","value":-8},"value":-4},"labelPadding":11.4}}}},
{"data":{"name":"b3"},"mark":{"type":"tick","orient":"horizontal","size":2.7,"thickness":1,"color":"#23239b","opacity":1},"encoding":{"x":{"field":"x","type":"quantitative"},"y":{"field":"y","type":"quantitative"}}},
{"data":{"name":"b3"},"mark":{"type":"tick","orient":"vertical","size":5,"thickness":1,"color":"#23239b","opacity":1},"encoding":{"x":{"field":"x","type":"quantitative"},"y":{"field":"y","type":"quantitative"}}},
{"data":{"name":"f3"},"mark":{"type":"line","interpolate":"monotone","strokeWidth":2.5},"encoding":{"x":{"field":"x","type":"quantitative"},"y":{"field":"y","type":"quantitative"},"color":{"field":"s","type":"nominal","scale":{"domain":["pre1","post1","pre2","post2"],"range":["#0a2cff","#ff1010","#000000","#ff1aff"]},"legend":null},"detail":{"field":"k","type":"nominal"}}},
{"data":{"name":"s3"},"mark":{"type":"rect","fill":"#fff","stroke":"#222","strokeWidth":1},"encoding":{"x":{"datum":7.13},"x2":{"datum":11.87},"y":{"datum":121.79},"y2":{"datum":86.8}}},
{"data":{"name":"s3"},"mark":{"type":"text","align":"left","baseline":"top","lineBreak":"\n","lineHeight":17.6,"font":"Liberation Sans","fontSize":11.5,"color":"#1a1a1a"},"encoding":{"x":{"datum":7.35},"y":{"datum":120.22},"text":{"field":"a"}}},
{"data":{"name":"s3"},"mark":{"type":"text","align":"right","baseline":"top","lineBreak":"\n","lineHeight":17.6,"font":"Liberation Sans","fontSize":11.5,"color":"#1a1a1a"},"encoding":{"x":{"datum":11.76},"y":{"datum":120.22},"text":{"field":"b"}}},
{"data":{"name":"s3"},"mark":{"type":"text","text":"σ+","font":"Lato","fontSize":29,"align":"center","baseline":"alphabetic","color":"#000"},"encoding":{"x":{"datum":5.74},"y":{"datum":128.15}}},
{"data":{"name":"s3"},"mark":{"type":"text","text":"t","font":"Lato","fontSize":25,"align":"left","baseline":"alphabetic","color":"#000"},"encoding":{"x":{"datum":9.354},"y":{"datum":-10.93}}},
{"data":{"name":"s3"},"mark":{"type":"text","text":"cycle","font":"Lato","fontSize":15,"align":"left","baseline":"alphabetic","color":"#000"},"encoding":{"x":{"datum":9.728},"y":{"datum":-12.92}}},
{"data":{"name":"s3"},"mark":{"type":"text","text":"(s)","font":"Lato","fontSize":25,"align":"left","baseline":"alphabetic","color":"#000"},"encoding":{"x":{"datum":11.131},"y":{"datum":-10.93}}}
]},
{"width":294,"height":293,"layer":[
{"data":{"name":"h4"},"mark":{"type":"line","interpolate":"step-after","color":"#23239b","strokeWidth":1.2},"encoding":{"x":{"field":"x","type":"quantitative","scale":{"domain":[0,11],"nice":false,"zero":false},"axis":{"title":null,"format":"d","tickCount":500,"labelOverlap":false,"labelBound":false,"values":[0,0.5,1,1.5,2,2.5,3,3.5,4,4.5,5,5.5,6,6.5,7,7.5,8,8.5,9,9.5,10,10.5,11],"labelExpr":"datum.value % 2 === 0 ? datum.label : ''","tickSize":{"condition":{"test":"datum.value % 2 === 0","value":-9},"value":-4.5},"labelPadding":16}},"y":{"field":"y","type":"quantitative","scale":{"domain":[0,169.5],"nice":false},"axis":{"title":null,"format":"d","tickCount":500,"labelOverlap":false,"labelBound":false,"values":[0,5,10,15,20,25,30,35,40,45,50,55,60,65,70,75,80,85,90,95,100,105,110,115,120,125,130,135,140,145,150,155,160,165],"labelExpr":"datum.value % 20 === 0 ? datum.label : ''","tickSize":{"condition":{"test":"datum.value % 20 === 0","value":-8},"value":-4},"labelPadding":11.4}}}},
{"data":{"name":"b4"},"mark":{"type":"tick","orient":"horizontal","size":2.7,"thickness":1,"color":"#23239b","opacity":1},"encoding":{"x":{"field":"x","type":"quantitative"},"y":{"field":"y","type":"quantitative"}}},
{"data":{"name":"b4"},"mark":{"type":"tick","orient":"vertical","size":6,"thickness":1,"color":"#23239b","opacity":1},"encoding":{"x":{"field":"x","type":"quantitative"},"y":{"field":"y","type":"quantitative"}}},
{"data":{"name":"f4"},"mark":{"type":"line","interpolate":"monotone","strokeWidth":2.5},"encoding":{"x":{"field":"x","type":"quantitative"},"y":{"field":"y","type":"quantitative"},"color":{"field":"s","type":"nominal","scale":{"domain":["pre1","post1","pre2","post2"],"range":["#0a2cff","#ff1010","#000000","#ff1aff"]},"legend":null},"detail":{"field":"k","type":"nominal"}}},
{"data":{"name":"s4"},"mark":{"type":"rect","fill":"#fff","stroke":"#222","strokeWidth":1},"encoding":{"x":{"datum":7.13},"x2":{"datum":12.12},"y":{"datum":177.19},"y2":{"datum":126.29}}},
{"data":{"name":"s4"},"mark":{"type":"text","align":"left","baseline":"top","lineBreak":"\n","lineHeight":17.6,"font":"Liberation Sans","fontSize":11.5,"color":"#1a1a1a"},"encoding":{"x":{"datum":7.35},"y":{"datum":174.91},"text":{"field":"a"}}},
{"data":{"name":"s4"},"mark":{"type":"text","align":"right","baseline":"top","lineBreak":"\n","lineHeight":17.6,"font":"Liberation Sans","fontSize":11.5,"color":"#1a1a1a"},"encoding":{"x":{"datum":12.01},"y":{"datum":174.91},"text":{"field":"b"}}},
{"data":{"name":"s4"},"mark":{"type":"text","text":"nSi2 (counts)","font":"Lato","fontSize":25,"align":"left","baseline":"alphabetic","color":"#000"},"encoding":{"x":{"datum":-2.4},"y":{"datum":180.09}}},
{"data":{"name":"s4"},"mark":{"type":"text","text":"t","font":"Lato","fontSize":25,"align":"left","baseline":"alphabetic","color":"#000"},"encoding":{"x":{"datum":9.26},"y":{"datum":-16.49}}},
{"data":{"name":"s4"},"mark":{"type":"text","text":"cycle","font":"Lato","fontSize":15,"align":"left","baseline":"alphabetic","color":"#000"},"encoding":{"x":{"datum":9.634},"y":{"datum":-19.09}}},
{"data":{"name":"s4"},"mark":{"type":"text","text":"(s)","font":"Lato","fontSize":25,"align":"left","baseline":"alphabetic","color":"#000"},"encoding":{"x":{"datum":11.037},"y":{"datum":-16.49}}}
]},
{"width":294,"height":293,"layer":[
{"data":{"name":"h5"},"mark":{"type":"line","interpolate":"step-after","color":"#23239b","strokeWidth":1.2},"encoding":{"x":{"field":"x","type":"quantitative","scale":{"domain":[0,11],"nice":false,"zero":false},"axis":{"title":null,"format":"d","tickCount":500,"labelOverlap":false,"labelBound":false,"values":[0,0.5,1,1.5,2,2.5,3,3.5,4,4.5,5,5.5,6,6.5,7,7.5,8,8.5,9,9.5,10,10.5,11],"labelExpr":"datum.value % 2 === 0 ? datum.label : ''","tickSize":{"condition":{"test":"datum.value % 2 === 0","value":-9},"value":-4.5},"labelPadding":16}},"y":{"field":"y","type":"quantitative","scale":{"domain":[0,163.9],"nice":false},"axis":{"title":null,"format":"d","tickCount":500,"labelOverlap":false,"labelBound":false,"values":[0,5,10,15,20,25,30,35,40,45,50,55,60,65,70,75,80,85,90,95,100,105,110,115,120,125,130,135,140,145,150,155,160],"labelExpr":"datum.value % 20 === 0 ? datum.label : ''","tickSize":{"condition":{"test":"datum.value % 20 === 0","value":-8},"value":-4},"labelPadding":11.4}}}},
{"data":{"name":"b5"},"mark":{"type":"tick","orient":"horizontal","size":2.7,"thickness":1,"color":"#23239b","opacity":1},"encoding":{"x":{"field":"x","type":"quantitative"},"y":{"field":"y","type":"quantitative"}}},
{"data":{"name":"b5"},"mark":{"type":"tick","orient":"vertical","size":10,"thickness":1,"color":"#23239b","opacity":1},"encoding":{"x":{"field":"x","type":"quantitative"},"y":{"field":"y","type":"quantitative"}}},
{"data":{"name":"f5"},"mark":{"type":"line","interpolate":"monotone","strokeWidth":2.5},"encoding":{"x":{"field":"x","type":"quantitative"},"y":{"field":"y","type":"quantitative"},"color":{"field":"s","type":"nominal","scale":{"domain":["pre1","post1","pre2","post2"],"range":["#0a2cff","#ff1010","#000000","#ff1aff"]},"legend":null},"detail":{"field":"k","type":"nominal"}}},
{"data":{"name":"s5"},"mark":{"type":"rect","fill":"#fff","stroke":"#222","strokeWidth":1},"encoding":{"x":{"datum":7.11},"x2":{"datum":11.95},"y":{"datum":171.34},"y2":{"datum":122.11}}},
{"data":{"name":"s5"},"mark":{"type":"text","align":"left","baseline":"top","lineBreak":"\n","lineHeight":17.6,"font":"Liberation Sans","fontSize":11.5,"color":"#1a1a1a"},"encoding":{"x":{"datum":7.33},"y":{"datum":169.13},"text":{"field":"a"}}},
{"data":{"name":"s5"},"mark":{"type":"text","align":"right","baseline":"top","lineBreak":"\n","lineHeight":17.6,"font":"Liberation Sans","fontSize":11.5,"color":"#1a1a1a"},"encoding":{"x":{"datum":11.84},"y":{"datum":169.13},"text":{"field":"b"}}},
{"data":{"name":"s5"},"mark":{"type":"text","text":"t","font":"Lato","fontSize":25,"align":"left","baseline":"alphabetic","color":"#000"},"encoding":{"x":{"datum":9.279},"y":{"datum":-15.94}}},
{"data":{"name":"s5"},"mark":{"type":"text","text":"cycle","font":"Lato","fontSize":15,"align":"left","baseline":"alphabetic","color":"#000"},"encoding":{"x":{"datum":9.653},"y":{"datum":-18.46}}},
{"data":{"name":"s5"},"mark":{"type":"text","text":"(s)","font":"Lato","fontSize":25,"align":"left","baseline":"alphabetic","color":"#000"},"encoding":{"x":{"datum":11.056},"y":{"datum":-15.94}}}
]},
{"width":294,"height":293,"layer":[
{"data":{"name":"h6"},"mark":{"type":"line","interpolate":"step-after","color":"#23239b","strokeWidth":1.2},"encoding":{"x":{"field":"x","type":"quantitative","scale":{"domain":[0,11],"nice":false,"zero":false},"axis":{"title":null,"format":"d","tickCount":500,"labelOverlap":false,"labelBound":false,"values":[0,0.5,1,1.5,2,2.5,3,3.5,4,4.5,5,5.5,6,6.5,7,7.5,8,8.5,9,9.5,10,10.5,11],"labelExpr":"datum.value % 2 === 0 ? datum.label : ''","tickSize":{"condition":{"test":"datum.value % 2 === 0","value":-9},"value":-4.5},"labelPadding":16}},"y":{"field":"y","type":"quantitative","scale":{"domain":[0,184.8],"nice":false},"axis":{"title":null,"format":"d","tickCount":500,"labelOverlap":false,"labelBound":false,"values":[0,5,10,15,20,25,30,35,40,45,50,55,60,65,70,75,80,85,90,95,100,105,110,115,120,125,130,135,140,145,150,155,160,165,170,175,180],"labelExpr":"datum.value % 20 === 0 ? datum.label : ''","tickSize":{"condition":{"test":"datum.value % 20 === 0","value":-8},"value":-4},"labelPadding":11.4}}}},
{"data":{"name":"b6"},"mark":{"type":"tick","orient":"horizontal","size":2.7,"thickness":1,"color":"#23239b","opacity":1},"encoding":{"x":{"field":"x","type":"quantitative"},"y":{"field":"y","type":"quantitative"}}},
{"data":{"name":"b6"},"mark":{"type":"tick","orient":"vertical","size":6,"thickness":1,"color":"#23239b","opacity":1},"encoding":{"x":{"field":"x","type":"quantitative"},"y":{"field":"y","type":"quantitative"}}},
{"data":{"name":"f6"},"mark":{"type":"line","interpolate":"monotone","strokeWidth":2.5},"encoding":{"x":{"field":"x","type":"quantitative"},"y":{"field":"y","type":"quantitative"},"color":{"field":"s","type":"nominal","scale":{"domain":["pre1","post1","pre2","post2"],"range":["#0a2cff","#ff1010","#000000","#ff1aff"]},"legend":null},"detail":{"field":"k","type":"nominal"}}},
{"data":{"name":"s6"},"mark":{"type":"rect","fill":"#fff","stroke":"#222","strokeWidth":1},"encoding":{"x":{"datum":7.13},"x2":{"datum":11.88},"y":{"datum":193.19},"y2":{"datum":137.69}}},
{"data":{"name":"s6"},"mark":{"type":"text","align":"left","baseline":"top","lineBreak":"\n","lineHeight":17.6,"font":"Liberation Sans","fontSize":11.5,"color":"#1a1a1a"},"encoding":{"x":{"datum":7.35},"y":{"datum":190.7},"text":{"field":"a"}}},
{"data":{"name":"s6"},"mark":{"type":"text","align":"right","baseline":"top","lineBreak":"\n","lineHeight":17.6,"font":"Liberation Sans","fontSize":11.5,"color":"#1a1a1a"},"encoding":{"x":{"datum":11.77},"y":{"datum":190.7},"text":{"field":"b"}}},
{"data":{"name":"s6"},"mark":{"type":"text","text":"t","font":"Lato","fontSize":25,"align":"left","baseline":"alphabetic","color":"#000"},"encoding":{"x":{"datum":9.354},"y":{"datum":-17.98}}},
{"data":{"name":"s6"},"mark":{"type":"text","text":"cycle","font":"Lato","fontSize":15,"align":"left","baseline":"alphabetic","color":"#000"},"encoding":{"x":{"datum":9.728},"y":{"datum":-20.81}}},
{"data":{"name":"s6"},"mark":{"type":"text","text":"(s)","font":"Lato","fontSize":25,"align":"left","baseline":"alphabetic","color":"#000"},"encoding":{"x":{"datum":11.131},"y":{"datum":-17.98}}}
]}
]
}
